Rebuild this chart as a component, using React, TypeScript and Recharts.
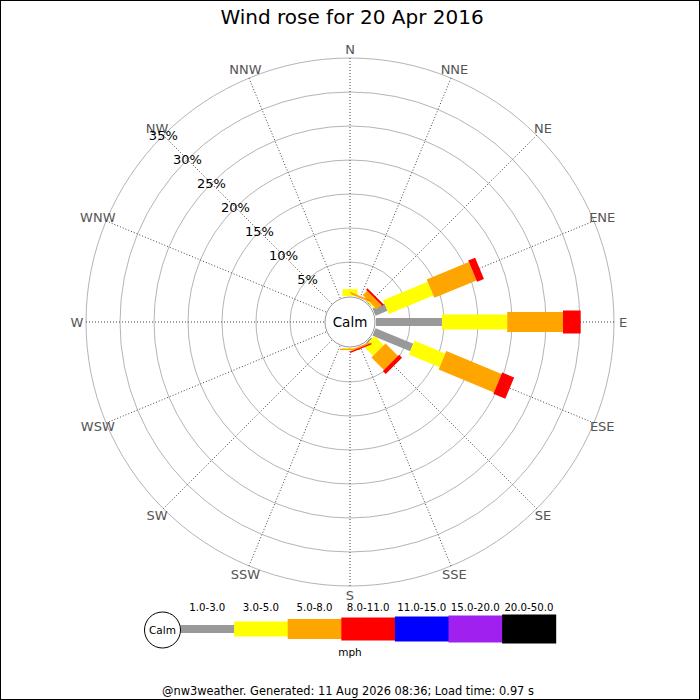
import {
  RadialBarChart,
  RadialBar,
  PolarGrid,
  PolarAngleAxis,
  PolarRadiusAxis,
} from "recharts";

const DIRECTIONS = [
  "N", "NNE", "NE", "ENE", "E", "ESE", "SE", "SSE",
  "S", "SSW", "SW", "WSW", "W", "WNW", "NW", "NNW",
];
const BINS = ["1.0-3.0", "3.0-5.0", "5.0-8.0", "8.0-11.0", "11.0-15.0", "15.0-20.0", "20.0-50.0"];
const PCT_TICKS = [5, 10, 15, 20, 25, 30, 35];

// % of the day per direction, one array per speed bin (mph)
const MPH_1_3 = [0, 0, 0.1, 1.9, 9.7, 6.0, 0.2, 0, 0, 0, 0, 0, 0, 0, 0, 0];
const MPH_3_5 = [1.0, 0, 0.2, 7.1, 9.6, 4.9, 1.9, 0, 0.1, 0, 0, 0, 0, 0, 0, 0];
const MPH_5_8 = [0, 0.2, 0.9, 6.7, 8.2, 8.8, 2.6, 0.2, 0.2, 0, 0, 0, 0, 0, 0, 0];
const MPH_8_11 = [0, 0.05, 0.3, 1.1, 2.6, 1.9, 0.6, 0.2, 0, 0, 0, 0, 0, 0, 0, 0];

const COLORS = ["#999999", "#ffff00", "#ffa500", "#ff0000", "#0000ff", "#a020f0", "#000000"];
const WIDTHS = [8, 15, 20, 23, 25, 27, 29];
const FONT = "'DejaVu Sans', Verdana, sans-serif";
const CALM_R = 26;
const STEP = 360 / DIRECTIONS.length;
// angle ticks sit on the band edge, bars on the band middle
const HALF_STEP = STEP / 2;
const SPOKES = DIRECTIONS.map((_, i) => 90 - i * STEP);

const rows = DIRECTIONS.map((dir, i) => ({
  dir,
  b0: MPH_1_3[i],
  b1: MPH_3_5[i],
  b2: MPH_5_8[i],
  b3: MPH_8_11[i],
}));

// straight bar of fixed width along the sector's mid angle
const barShape = (w: number, color: string) => (p: any) => {
  const { cx, cy, innerRadius, outerRadius, startAngle, endAngle } = p;
  if (!(outerRadius - innerRadius > 0.05)) return <g />;
  const a = (-((startAngle + endAngle) / 2) * Math.PI) / 180;
  const ux = Math.cos(a);
  const uy = Math.sin(a);
  const nx = (-uy * w) / 2;
  const ny = (ux * w) / 2;
  const pts = [
    [innerRadius, 1],
    [outerRadius, 1],
    [outerRadius, -1],
    [innerRadius, -1],
  ]
    .map(([r, s]) => `${cx + ux * r + s * nx},${cy + uy * r + s * ny}`)
    .join(" ");
  return <polygon points={pts} fill={color} />;
};

function DirTick(props: any) {
  const { payload } = props;
  const cx = props.cx ?? 350;
  const cy = props.cy ?? 322;
  const r = (props.radius ?? 264) + 9;
  const a = (-(payload.coordinate + HALF_STEP) * Math.PI) / 180;
  return (
    <text
      x={cx + Math.cos(a) * r}
      y={cy + Math.sin(a) * r}
      textAnchor="middle"
      dominantBaseline="central"
      fill="#555"
      fontSize={13}
      fontFamily={FONT}
    >
      {payload.value}
    </text>
  );
}

function PctTick(props: any) {
  const { x, y, payload } = props;
  return (
    <text x={x} y={y} textAnchor="middle" dominantBaseline="central" fill="#000" fontSize={13} fontFamily={FONT}>
      {payload.value}%
    </text>
  );
}

function Overlay() {
  const x0 = 180.5;
  const bw = 53.6;
  return (
    <svg width={700} height={700} style={{ position: "absolute", left: 0, top: 0, pointerEvents: "none" }}>
      <rect x={0.5} y={0.5} width={699} height={699} fill="none" stroke="#000" />
      <text x={352} y={24} textAnchor="middle" fontSize={20} fontFamily={FONT} fill="#000">
        Wind rose for 20 Apr 2016
      </text>
      <circle cx={350} cy={322} r={25} fill="#fff" stroke="#999" />
      <text x={350} y={322} textAnchor="middle" dominantBaseline="central" fontSize={13.5} fontFamily={FONT}>
        Calm
      </text>
      {BINS.map((b, i) => (
        <g key={b}>
          <rect x={x0 + i * bw} y={629 - WIDTHS[i] / 2} width={bw + 0.5} height={WIDTHS[i]} fill={COLORS[i]} />
          <text x={x0 + i * bw + bw / 2} y={611} textAnchor="middle" fontSize={10.2} fontFamily={FONT}>
            {b}
          </text>
        </g>
      ))}
      <circle cx={162.5} cy={630} r={18} fill="#fff" stroke="#000" />
      <text x={162.5} y={630} textAnchor="middle" dominantBaseline="central" fontSize={10.5} fontFamily={FONT}>
        Calm
      </text>
      <text x={350} y={656} textAnchor="middle" fontSize={10.5} fontFamily={FONT}>
        mph
      </text>
      <text x={348} y={695} textAnchor="middle" fontSize={11.4} fontFamily={FONT}>
        @nw3weather. Generated: 11 Aug 2026 08:36; Load time: 0.97 s
      </text>
    </svg>
  );
}

export default function App() {
  return (
    <div style={{ position: "absolute", left: 0, top: 0, width: 700, height: 700, background: "#fff" }}>
      <RadialBarChart
        width={700}
        height={700}
        data={rows}
        layout="centric"
        cx={350}
        cy={322}
        innerRadius={CALM_R}
        outerRadius={264}
        startAngle={90 - HALF_STEP}
        endAngle={90 - HALF_STEP - 360}
        margin={{ top: 0, right: 0, bottom: 0, left: 0 }}
      >
        <PolarGrid gridType="circle" radialLines={false} stroke="#b4b4b4" />
        <PolarGrid gridType="circle" polarRadius={[]} polarAngles={SPOKES} stroke="#444" strokeDasharray="1 2" />
        <PolarAngleAxis dataKey="dir" type="category" tickLine={false} axisLine={false} tick={DirTick} />
        <PolarRadiusAxis type="number" domain={[0, 35]} ticks={PCT_TICKS} angle={135} axisLine={false} tickLine={false} tick={PctTick} />
        {["b0", "b1", "b2", "b3"].map((k, i) => (
          <RadialBar
            key={k}
            dataKey={k}
            stackId="w"
            isAnimationActive={false}
            fill={COLORS[i]}
            shape={barShape(WIDTHS[i], COLORS[i])}
          />
        ))}
      </RadialBarChart>
      <Overlay />
    </div>
  );
}
